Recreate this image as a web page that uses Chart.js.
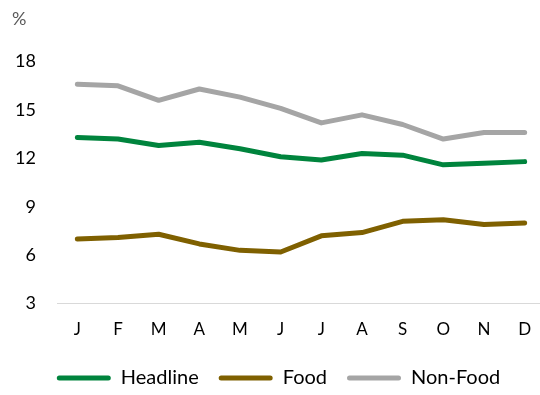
<!DOCTYPE html>
<html>
<head>
<meta charset="utf-8">
<script src="https://cdn.jsdelivr.net/npm/chart.js@4"></script>
<style>
  html, body { margin: 0; padding: 0; background: #fff; overflow: hidden; }
  #wrap { width: 545px; height: 395px; }
</style>
</head>
<body>
<div id="wrap"><canvas id="chart"></canvas></div>
<script>
const months = ["J", "F", "M", "A", "M", "J", "J", "A", "S", "O", "N", "D"];
const headline = [13.3, 13.2, 12.8, 13.0, 12.6, 12.1, 11.9, 12.3, 12.2, 11.6, 11.7, 11.8];
const food = [7.0, 7.1, 7.3, 6.7, 6.3, 6.2, 7.2, 7.4, 8.1, 8.2, 7.9, 8.0];
const nonFood = [16.6, 16.5, 15.6, 16.3, 15.8, 15.1, 14.2, 14.7, 14.1, 13.2, 13.6, 13.6];
const yTicks = [3, 6, 9, 12, 15, 18];

const fontName = "Lato, 'Open Sans', sans-serif";

function series(label, data, color) {
    return {
        label: label,
        data: data,
        borderColor: color,
        backgroundColor: color,
        borderWidth: 5,
        pointRadius: 0,
        tension: 0,
        borderCapStyle: 'round',
        borderJoinStyle: 'round'
    };
}

new Chart(document.getElementById("chart").getContext("2d"), {
    type: 'line',
    data: {
        labels: months,
        datasets: [
            series("Headline", headline, '#00843D'),
            series("Food", food, '#7F6000'),
            series("Non-Food", nonFood, '#A5A5A5')
        ]
    },
    options: {
        responsive: true,
        maintainAspectRatio: false,
        animation: false,
        layout: { padding: { left: 12, right: 0, top: 0, bottom: -3 } },
        plugins: {
            title: {
                display: true,
                text: '%',
                align: 'start',
                color: '#595959',
                font: { family: fontName, size: 18, weight: 'normal' },
                padding: { top: 8, bottom: 32 }
            },
            legend: {
                position: 'bottom',
                align: 'center',
                labels: {
                    boxWidth: 54,
                    boxHeight: 5,
                    padding: 20,
                    useBorderRadius: true,
                    color: '#000',
                    font: { family: fontName, size: 20 },
                    // plain 5px bars, no outline stroke
                    generateLabels: chart => Chart.defaults.plugins.legend.labels.generateLabels(chart)
                        .map(item => Object.assign(item, { lineWidth: 0, strokeStyle: 'rgba(0,0,0,0)', borderRadius: 2.5 }))
                }
            },
            tooltip: { enabled: false }
        },
        scales: {
            x: {
                offset: true,
                grid: { display: false },
                border: { display: true, color: '#D9D9D9', width: 1 },
                ticks: {
                    color: '#000',
                    padding: 8,
                    maxRotation: 0,
                    font: { family: fontName, size: 17 }
                }
            },
            y: {
                min: 3,
                max: 18,
                afterBuildTicks: axis => { axis.ticks = yTicks.map(v => ({ value: v })); },
                afterFit: axis => { axis.width = 45; },
                grid: { display: false, drawTicks: false },
                border: { display: false },
                ticks: {
                    color: '#000',
                    padding: 21,
                    font: { family: fontName, size: 18 }
                }
            }
        }
    }
});
</script>
</body>
</html>
